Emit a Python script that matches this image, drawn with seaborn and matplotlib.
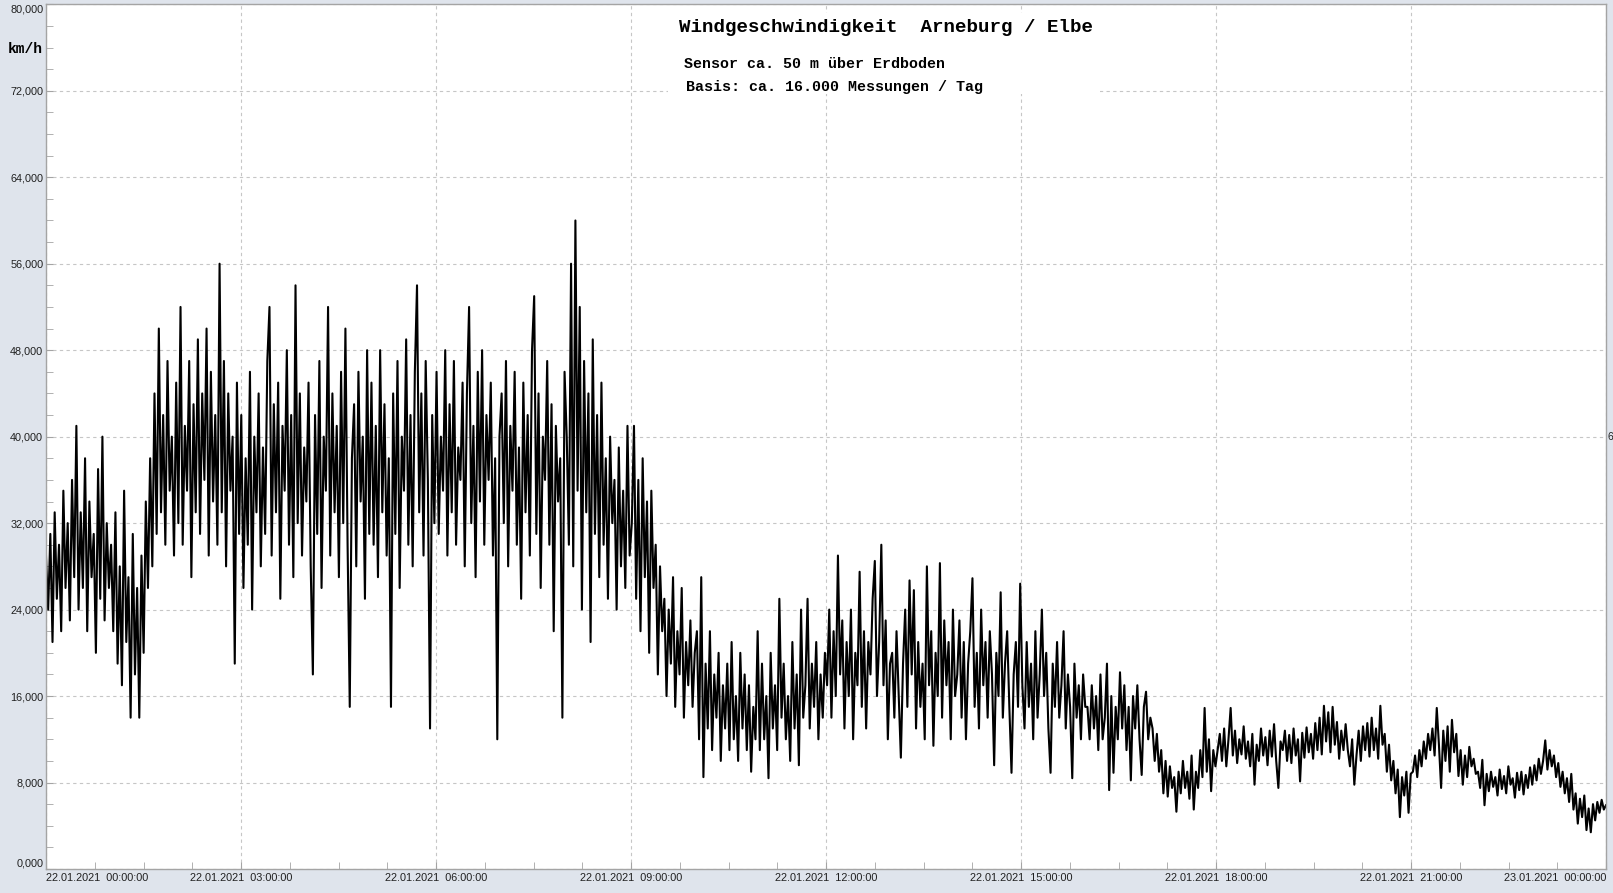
import matplotlib
matplotlib.use("Agg")
import matplotlib.pyplot as plt
import matplotlib.ticker as mticker
from matplotlib.patches import Rectangle
import seaborn as sns
import numpy as np
import pandas as pd

# Windgeschwindigkeit in km/h, 30 Werte je Stunde
kmh_00_09 = [
    29, 24, 31, 21, 33, 25, 30, 22, 35, 26, 32, 23, 36, 27, 41, 24, 33, 26, 38, 22, 34, 27, 31, 20, 37, 25, 40, 23, 32, 26,
    30, 22, 33, 19, 28, 17, 35, 21, 27, 14, 31, 18, 26, 14, 29, 20, 34, 26, 38, 28, 44, 31, 50, 33, 42, 30, 47, 35, 40, 29,
    45, 32, 52, 30, 41, 35, 47, 27, 43, 33, 49, 31, 44, 36, 50, 29, 46, 34, 42, 30, 56, 33, 47, 28, 44, 35, 40, 19, 45, 31,
    42, 26, 38, 30, 46, 24, 40, 33, 44, 28, 39, 31, 47, 52, 29, 43, 33, 45, 25, 41, 35, 48, 30, 42, 27, 54, 32, 44, 29, 39,
    34, 45, 28, 18, 42, 31, 47, 26, 40, 35, 52, 29, 44, 33, 41, 27, 46, 32, 50, 30, 15, 38, 43, 28, 46, 34, 40, 25, 48, 31,
    45, 30, 41, 27, 48, 33, 43, 29, 38, 15, 44, 31, 47, 26, 40, 35, 49, 30, 42, 28, 46, 54, 33, 44, 29, 47, 36, 13, 42, 32,
    46, 31, 40, 35, 48, 29, 43, 33, 47, 30, 39, 36, 45, 28, 44, 52, 32, 41, 27, 46, 34, 48, 30, 42, 36, 45, 29, 38, 12, 40,
    44, 32, 47, 28, 41, 35, 46, 30, 39, 25, 45, 33, 42, 29, 48, 53, 31, 44, 26, 40, 36, 47, 30, 43, 22, 41, 34, 38, 14, 46,
    40, 30, 56, 28, 60, 35, 52, 24, 47, 33, 44, 21, 49, 31, 42, 27, 45, 30, 38, 25, 40, 32, 36, 24, 39, 28, 35, 26, 41, 29,
]
kmh_09_16 = [
    32, 41, 25, 36, 22, 38, 27, 34, 20, 35, 26, 30, 18, 28, 22, 25, 16, 24, 19, 27, 15, 22, 18, 26, 14, 21, 17, 23, 15, 20,
    22, 12, 27, 8.5, 19, 13, 22, 11, 18, 14, 20, 10, 17, 13, 19, 11, 21, 12, 16, 10, 20, 13, 18, 11, 17, 9, 15, 12, 22, 11,
    19, 12, 16, 8.4, 20, 13, 17, 11, 25, 14, 19, 12, 16, 10, 21, 13, 18, 9.6, 24, 14, 17, 25, 13, 19, 15, 21, 12, 18, 14, 20,
    17, 24, 14, 22, 16, 29, 18, 23, 13, 21, 16, 24, 12, 20, 17, 27.5, 15, 22, 13, 21, 18, 25, 28.5, 16, 21, 30, 17, 23, 12, 19,
    20, 14, 22, 16, 10.3, 19, 24, 15, 26.7, 18, 25.8, 13, 21, 15, 19, 12, 28, 17, 22, 11.4, 20, 16, 28.3, 14, 23, 17, 21, 12, 24, 16,
    18, 23, 14, 21, 12, 19, 22, 26.9, 15, 20, 13, 24, 17, 21, 14, 22, 18, 9.6, 20, 16, 25.6, 14, 19, 22, 15, 8.9, 18, 21, 15, 26.4,
    17, 13, 21, 15, 19, 12, 22, 14, 18, 24, 16, 20, 13, 8.9, 19, 15, 21, 14, 17, 22, 13, 18, 15, 8.4, 19, 14, 17, 12, 18, 15,
]
kmh_16_24 = [
    15, 12, 17, 13, 16, 11, 18, 12, 14, 19, 7.3, 16, 8.9, 15, 12, 18.2, 13, 17, 11, 15, 8.2, 16, 13, 17, 12, 8.7, 15, 16.4, 12, 14,
    13, 10, 12.5, 9, 11, 7, 10, 6.7, 9.5, 7.5, 8.5, 5.3, 9, 7, 10, 7.5, 9, 6.5, 10.5, 5.5, 9, 7.5, 11, 8.5, 14.9, 9, 12, 7.2, 11, 9.5,
    11, 12.5, 10, 13, 9.5, 12, 14.9, 10.5, 12.8, 9.8, 12, 10.6, 13.2, 10.2, 11.8, 9.5, 12.5, 7.8, 11.5, 10, 13, 10.5, 12.2, 9.6, 12.8, 10.4, 13.4, 10, 7.5, 11.8,
    11, 12.8, 10, 12.4, 9.8, 13, 10.5, 12, 8.1, 12.6, 10.3, 13.1, 10.8, 12.5, 10.2, 13.5, 11, 14, 10.6, 15.1, 11.8, 14.5, 10.8, 15, 11.5, 13.6, 10.2, 12.8, 11, 13.4,
    11, 9.5, 12, 7.8, 10.5, 12.8, 10, 13.2, 11, 13.5, 10.4, 14, 11, 13, 10.2, 15.1, 11.5, 12.5, 9, 11.5, 8.2, 10, 7, 9.2, 4.8, 8.5, 6.8, 9, 5.2, 8.8,
    9, 10.5, 8.5, 11, 9.5, 11.8, 10.2, 12.5, 11, 13, 10.5, 14.9, 11.5, 7.5, 12.8, 10, 13.2, 9, 13.8, 10.8, 12.5, 8.6, 11, 7.8, 10.5, 8.5, 11.3, 9.5, 10.2, 8.8,
    9, 7.5, 10.1, 5.9, 8.8, 7.2, 9, 7.6, 8.5, 6.8, 9.2, 7.4, 8.6, 7, 9.5, 7.8, 8.4, 6.6, 8.9, 7.3, 9, 6.9, 8.7, 7.5, 9.4, 7.8, 9.6, 8.2, 10.2, 8.8,
    10, 11.9, 9.2, 11, 9.5, 10.5, 8.5, 9.8, 7.6, 9, 7, 8.4, 6.2, 8.8, 5.5, 7, 4.2, 6.5, 4.8, 6.8, 3.6, 5.6, 3.4, 6, 4.5, 6.2, 5.2, 6.4, 5.5, 5.9,
]

start = pd.Timestamp("2021-01-22 00:00:00")
end = pd.Timestamp("2021-01-23 00:00:00")
y_major = [0, 8, 16, 24, 32, 40, 48, 56, 64, 72, 80]

title = "Windgeschwindigkeit  Arneburg / Elbe"
sub1 = "Sensor ca. 50 m über Erdboden"
sub2 = "Basis: ca. 16.000 Messungen / Tag"


def main():
    kmh = np.array(kmh_00_09 + kmh_09_16 + kmh_16_24, dtype=float)
    times = pd.date_range(start, end, periods=len(kmh))
    df = pd.DataFrame({"zeit": times, "kmh": kmh})

    plt.rcParams['font.family'] = ['Liberation Sans', 'DejaVu Sans']
    bg = '#dfe4ec'
    grey = '#a4a4a4'

    fig = plt.figure(figsize=(16.13, 8.93), dpi=100, facecolor=bg)
    ax = fig.add_axes([46 / 1613, 1 - 869 / 893, 1560 / 1613, 864.7 / 893])
    ax.set_facecolor('white')

    sns.lineplot(data=df, x="zeit", y="kmh", color='black', linewidth=1.5,
                 estimator=None, ax=ax)

    ax.set_xlim(start, end)
    ax.set_ylim(0, 80)

    # Achsen / Ticks
    ax.set_yticks(y_major)
    ax.set_yticks(np.arange(0, 81, 2), minor=True)
    ax.yaxis.set_major_formatter(mticker.FuncFormatter(
        lambda v, p: f"{v:.3f}".replace('.', ',')))

    x_major = pd.date_range(start, end, freq='3h')
    x_labels = [t.strftime('%d.%m.%Y  %H:%M:%S') for t in x_major]
    ax.set_xticks(x_major)
    ax.set_xticklabels(x_labels)
    ax.set_xticks(pd.date_range(start, end, freq='45min'), minor=True)

    ax.tick_params(axis='both', which='both', direction='in', length=5,
                   color=grey, labelsize=7.8, labelcolor='#202020', pad=3)
    ax.tick_params(axis='y', which='both', pad=2)

    xl = ax.get_xticklabels()
    xl[0].set_ha('left')
    xl[-1].set_ha('right')
    yl = ax.get_yticklabels()
    yl[0].set_va('bottom')
    yl[-1].set_va('top')

    ax.set_xlabel('')
    ax.set_ylabel('')
    for s in ax.spines.values():
        s.set_color(grey)
        s.set_linewidth(1.0)

    ax.grid(True, which='major', linestyle=(0, (3, 3)), color='#c6c6c6', linewidth=0.8)
    ax.set_axisbelow(True)

    # weisser Kasten hinter dem Titel
    fig.patches.append(Rectangle((668 / 1613, 1 - 94 / 893), 432 / 1613, 81 / 893,
                                 transform=fig.transFigure, facecolor='white',
                                 edgecolor='none', zorder=1))

    mono = ['Liberation Mono', 'DejaVu Sans Mono']
    fig.text(679 / 1613, 1 - 28 / 893, title, family=mono, fontsize=13.8,
             fontweight='bold', va='center', ha='left', zorder=3)
    fig.text(684 / 1613, 1 - 64 / 893, sub1, family=mono, fontsize=10.8,
             fontweight='bold', va='center', ha='left', zorder=3)
    fig.text(686 / 1613, 1 - 86.5 / 893, sub2, family=mono, fontsize=10.8,
             fontweight='bold', va='center', ha='left', zorder=3)

    fig.text(8 / 1613, 1 - 49 / 893, 'km/h', family=mono, fontsize=10.5,
             fontweight='bold', va='center', ha='left')
    fig.text(1608 / 1613, 1 - 437 / 893, '6', fontsize=7.5, va='center',
             ha='left', color='#202020')

    plt.savefig("out.png", dpi=100, facecolor=bg)
    plt.close()


if __name__ == "__main__":
    main()
